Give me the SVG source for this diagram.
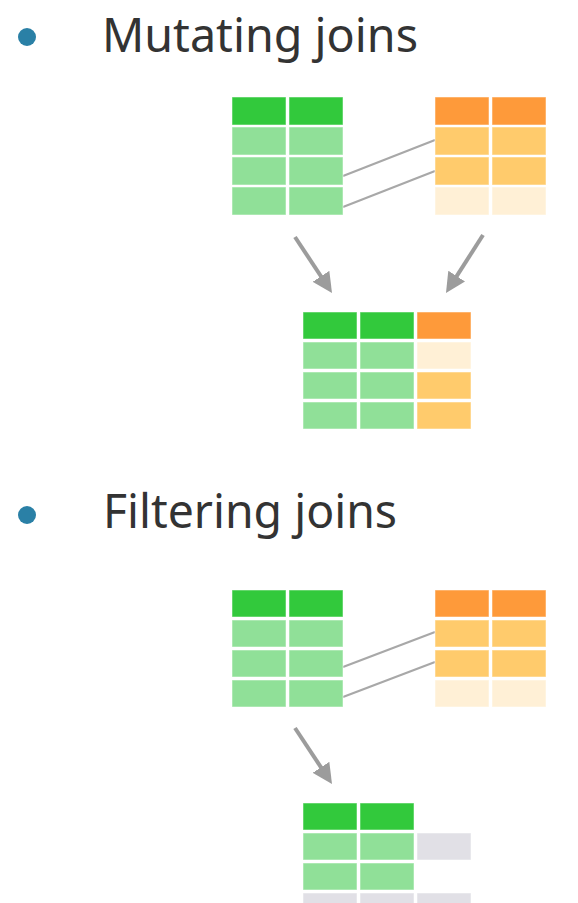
<svg xmlns="http://www.w3.org/2000/svg" width="578" height="903" viewBox="0 0 578 903">
<defs>
<style>
.t{font-family:"Noto Sans","Open Sans","DejaVu Sans",sans-serif;font-size:48px;fill:#333333}
.b{fill:#2a80a6}
.c{stroke:#ffffff;stroke-opacity:0.5;stroke-width:1}
.dg{fill:#32c93c}
.lg{fill:#90e098}
.do{fill:#fe9a3a}
.lo{fill:#ffcb6c}
.po{fill:#fff0d6}
.gr{fill:#e1e0e6}
.link{stroke:#a8a8a8;stroke-width:2.2;fill:none}
.arr{stroke:#9c9c9c;stroke-width:4;fill:none;marker-end:url(#ah)}
</style>
<marker id="ah" viewBox="0 0 10 10" refX="7" refY="5" markerWidth="20" markerHeight="20" markerUnits="userSpaceOnUse" orient="auto">
<path d="M0,0 L10,5 L0,10 z" fill="#9c9c9c"/>
</marker>
</defs>
<rect width="578" height="903" fill="#ffffff"/>

<g id="heading-mutating">
<circle class="b" cx="27" cy="37" r="9"/>
<text class="t" x="102" y="52" textLength="316" lengthAdjust="spacingAndGlyphs">Mutating joins</text>
</g>

<g id="heading-filtering">
<circle class="b" cx="27" cy="515" r="9"/>
<text class="t" x="103" y="528" textLength="294" lengthAdjust="spacingAndGlyphs">Filtering joins</text>
</g>

<g id="connectors">
<line class="link" x1="343" y1="176" x2="435" y2="140"/>
<line class="link" x1="343" y1="207" x2="435" y2="171"/>
<line class="arr" x1="295" y1="237" x2="328.7" y2="288"/>
<line class="arr" x1="483" y1="235" x2="449.2" y2="287.9"/>
<line class="link" x1="343" y1="667" x2="435" y2="632"/>
<line class="link" x1="343" y1="697" x2="435" y2="662"/>
<line class="arr" x1="295" y1="728" x2="328.7" y2="779"/>
</g>

<g id="mut-x">
<rect class="c dg" x="232" y="97" width="54" height="28"/>
<rect class="c dg" x="289" y="97" width="54" height="28"/>
<rect class="c lg" x="232" y="127" width="54" height="28"/>
<rect class="c lg" x="289" y="127" width="54" height="28"/>
<rect class="c lg" x="232" y="157" width="54" height="28"/>
<rect class="c lg" x="289" y="157" width="54" height="28"/>
<rect class="c lg" x="232" y="187" width="54" height="28"/>
<rect class="c lg" x="289" y="187" width="54" height="28"/>
</g>

<g id="mut-y">
<rect class="c do" x="435" y="97" width="54" height="28"/>
<rect class="c do" x="492" y="97" width="54" height="28"/>
<rect class="c lo" x="435" y="127" width="54" height="28"/>
<rect class="c lo" x="492" y="127" width="54" height="28"/>
<rect class="c lo" x="435" y="157" width="54" height="28"/>
<rect class="c lo" x="492" y="157" width="54" height="28"/>
<rect class="c po" x="435" y="187" width="54" height="28"/>
<rect class="c po" x="492" y="187" width="54" height="28"/>
</g>

<g id="mut-result">
<rect class="c dg" x="303" y="312" width="54" height="27"/>
<rect class="c dg" x="360" y="312" width="54" height="27"/>
<rect class="c do" x="417" y="312" width="54" height="27"/>
<rect class="c lg" x="303" y="342" width="54" height="27"/>
<rect class="c lg" x="360" y="342" width="54" height="27"/>
<rect class="c po" x="417" y="342" width="54" height="27"/>
<rect class="c lg" x="303" y="372" width="54" height="27"/>
<rect class="c lg" x="360" y="372" width="54" height="27"/>
<rect class="c lo" x="417" y="372" width="54" height="27"/>
<rect class="c lg" x="303" y="402" width="54" height="27"/>
<rect class="c lg" x="360" y="402" width="54" height="27"/>
<rect class="c lo" x="417" y="402" width="54" height="27"/>
</g>

<g id="filt-x">
<rect class="c dg" x="232" y="590" width="54" height="27"/>
<rect class="c dg" x="289" y="590" width="54" height="27"/>
<rect class="c lg" x="232" y="620" width="54" height="27"/>
<rect class="c lg" x="289" y="620" width="54" height="27"/>
<rect class="c lg" x="232" y="650" width="54" height="27"/>
<rect class="c lg" x="289" y="650" width="54" height="27"/>
<rect class="c lg" x="232" y="680" width="54" height="27"/>
<rect class="c lg" x="289" y="680" width="54" height="27"/>
</g>

<g id="filt-y">
<rect class="c do" x="435" y="590" width="54" height="27"/>
<rect class="c do" x="492" y="590" width="54" height="27"/>
<rect class="c lo" x="435" y="620" width="54" height="27"/>
<rect class="c lo" x="492" y="620" width="54" height="27"/>
<rect class="c lo" x="435" y="650" width="54" height="27"/>
<rect class="c lo" x="492" y="650" width="54" height="27"/>
<rect class="c po" x="435" y="680" width="54" height="27"/>
<rect class="c po" x="492" y="680" width="54" height="27"/>
</g>

<g id="filt-result">
<rect class="c dg" x="303" y="803" width="54" height="27"/>
<rect class="c dg" x="360" y="803" width="54" height="27"/>
<rect class="c lg" x="303" y="833" width="54" height="27"/>
<rect class="c lg" x="360" y="833" width="54" height="27"/>
<rect class="c gr" x="417" y="833" width="54" height="27"/>
<rect class="c lg" x="303" y="863" width="54" height="27"/>
<rect class="c lg" x="360" y="863" width="54" height="27"/>
<rect class="c gr" x="303" y="893" width="54" height="27"/>
<rect class="c gr" x="360" y="893" width="54" height="27"/>
<rect class="c gr" x="417" y="893" width="54" height="27"/>
</g>
</svg>
